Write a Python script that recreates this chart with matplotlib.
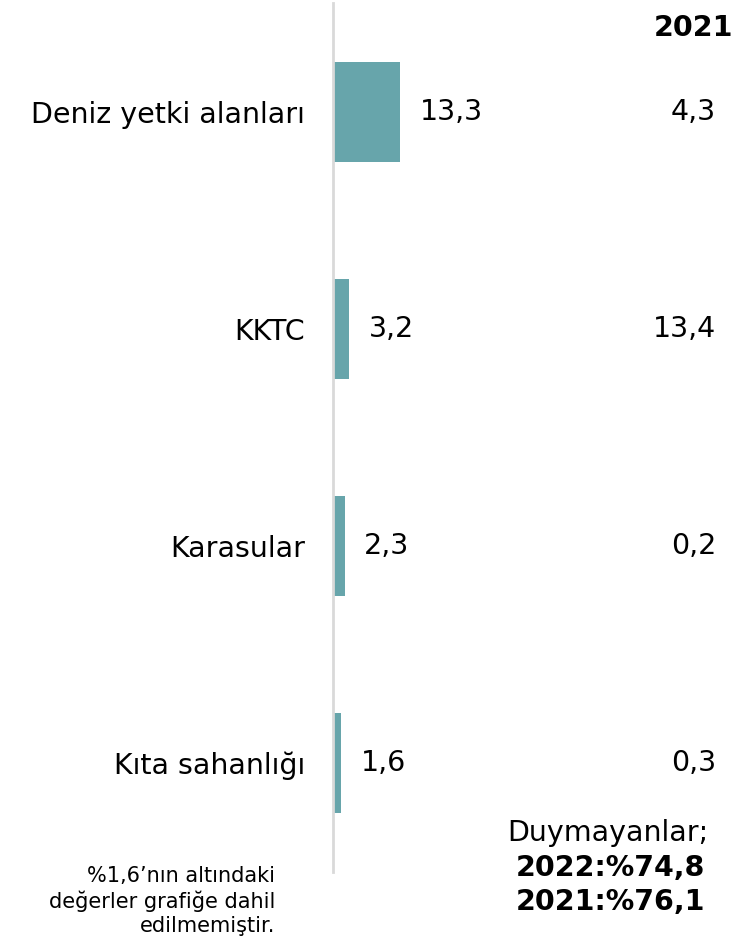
import matplotlib
matplotlib.use("Agg")
import matplotlib.pyplot as plt

categories = ["Deniz yetki alanları", "KKTC", "Karasular", "Kıta sahanlığı"]
values_2022 = [13.3, 3.2, 2.3, 1.6]
values_2021 = [4.3, 13.4, 0.2, 0.3]
header_2021 = "2021"
note_lines = ["%1,6’nın altındaki", "değerler grafiğe dahil", "edilmemiştir."]
unheard_title = "Duymayanlar;"
unheard_lines = ["2022:%74,8", "2021:%76,1"]

def fmt(v):
    return f"{v:.1f}".replace(".", ",")

plt.rcParams['font.family'] = ['DejaVu Sans']
FS = 20.5
W, H = 748, 938
fig = plt.figure(figsize=(W/100, H/100), dpi=100)
ax = fig.add_axes([333/W, (H-871.5)/H, (W-333)/W, 868/H])

y = list(range(len(categories)))
ax.barh(y, values_2022, height=0.465, color="#67A5AB", left=0, zorder=2)
ax.set_ylim(len(categories)-0.5, -0.5)
ax.set_xlim(0, 82)
for s in ["top", "right", "bottom"]:
    ax.spines[s].set_visible(False)
ax.spines["left"].set_color("#d9d9d9")
ax.spines["left"].set_linewidth(2)
ax.set_xticks([])
ax.set_yticks(y)
ax.set_yticklabels(categories, fontsize=FS)
ax.tick_params(axis="y", length=0, pad=20)

for yi, v in zip(y, values_2022):
    ax.annotate(fmt(v), (v, yi), xytext=(14, 0), textcoords="offset points",
                ha="left", va="center", fontsize=FS)

for yi, v in zip(y, values_2021):
    ax.annotate(fmt(v), (1, yi), xycoords=("axes fraction", "data"),
                xytext=(-23, 0), textcoords="offset points",
                ha="right", va="center", fontsize=FS)

fig.text(733/W, 1-28/H, header_2021, ha="right", va="center",
         fontsize=FS, fontweight="bold")

fig.text(608/W, 1-833/H, unheard_title, ha="center", va="center", fontsize=FS)
for i, line in enumerate(unheard_lines):
    fig.text(610/W, 1-(868+34*i)/H, line, ha="center", va="center",
             fontsize=FS, fontweight="bold")

for i, line in enumerate(note_lines):
    fig.text(275/W, 1-(876+25*i)/H, line, ha="right", va="center", fontsize=15)

fig.savefig("out.png", dpi=100)
